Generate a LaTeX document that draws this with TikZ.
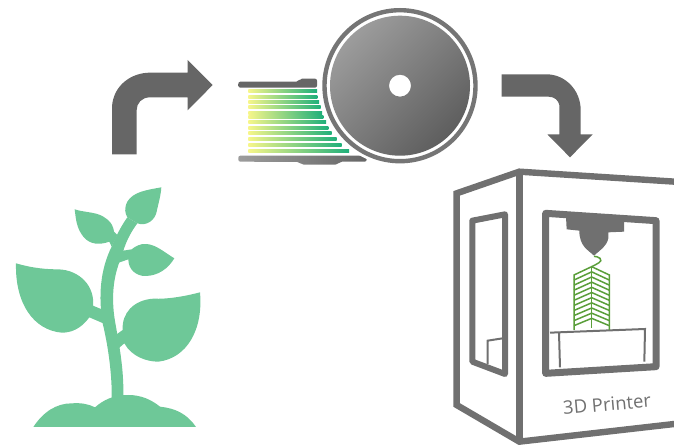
\documentclass[tikz,border=0pt]{standalone}
\usepackage{fontspec}
\setmainfont{Open Sans}
\definecolor{leaf}{HTML}{6EC898}
\definecolor{arrowgray}{HTML}{666666}
\definecolor{printgray}{HTML}{707070}
\definecolor{modelgreen}{HTML}{5A9E3A}
\definecolor{fila}{HTML}{1FAF7A}
\definecolor{filb}{HTML}{78DC6A}
\definecolor{filc}{HTML}{F6F68A}
\definecolor{disca}{HTML}{9C9C9C}
\definecolor{discb}{HTML}{5E5E5E}
\tikzset{
  zoomed/.style={x=0.33333pt,y=-0.33333pt},
  plant/.style={fill=leaf,draw=none},
  bigarrow/.style={fill=arrowgray,draw=none},
  frame/.style={draw=printgray,line width=6.4pt,line join=round,fill=none},
  thinframe/.style={draw=printgray,line width=2pt,line join=miter,fill=none},
  modelline/.style={draw=modelgreen,line width=1.5pt},
  strand/.style={draw=none,left color=filc,middle color=filb,right color=fila}
}
\begin{document}
\begin{tikzpicture}[x=1pt,y=-1pt]
\useasboundingbox (0,0) rectangle (674,446);
% plant
\begin{scope}[shift={(0,180)},zoomed]
\fill[plant] (335,660) .. controls (337,590) and (325,500) .. (308,430)
  .. controls (295,350) and (300,270) .. (335,200)
  .. controls (345,175) and (362,140) .. (382,112) -- (412,130)
  .. controls (390,160) and (375,190) .. (365,230)
  .. controls (338,290) and (332,360) .. (348,440)
  .. controls (360,510) and (372,570) .. (370,660) -- cycle;
\fill[plant] (48,250) .. controls (100,265) and (140,268) .. (175,268)
  .. controls (240,270) and (285,320) .. (279,377) -- (310,390) -- (310,430) -- (268,412)
  .. controls (240,450) and (210,458) .. (185,458)
  .. controls (100,450) and (45,370) .. (48,250) -- cycle;
\fill[plant] (600,337) .. controls (550,350) and (500,358) .. (460,356)
  .. controls (400,360) and (365,400) .. (368,450) -- (340,470) -- (350,510) -- (373,490)
  .. controls (395,530) and (440,545) .. (475,545)
  .. controls (560,535) and (610,450) .. (600,337) -- cycle;
\fill[plant] (523,235) .. controls (490,215) and (470,195) .. (440,192)
  .. controls (420,190) and (405,200) .. (395,208) -- (350,215) -- (345,252) -- (385,238)
  .. controls (385,270) and (410,288) .. (435,288)
  .. controls (475,288) and (505,265) .. (523,235) -- cycle;
\fill[plant] (484,22) .. controls (440,30) and (400,35) .. (382,65)
  .. controls (372,85) and (375,100) .. (382,112) -- (412,130)
  .. controls (440,140) and (465,120) .. (470,95)
  .. controls (475,70) and (482,50) .. (484,22) -- cycle;
\fill[plant] (224,88) .. controls (255,98) and (285,95) .. (310,110)
  .. controls (335,125) and (340,140) .. (342,155) -- (352,165) -- (335,200) -- (328,185)
  .. controls (300,195) and (270,195) .. (250,170)
  .. controls (230,145) and (228,120) .. (224,88) -- cycle;
\fill[plant] (100,741) .. controls (130,695) and (170,670) .. (215,670)
  .. controls (245,668) and (265,672) .. (285,682)
  .. controls (310,660) and (340,645) .. (385,645)
  .. controls (425,645) and (455,660) .. (480,680)
  .. controls (525,685) and (560,700) .. (588,741) -- cycle;
\end{scope}
% arrow 1
\begin{scope}[shift={(100,50)},zoomed]
\fill[bigarrow] (36,313) -- (36,170) .. controls (40,105) and (95,68) .. (150,68)
  -- (263,68) -- (263,30) -- (338,105) -- (263,181) -- (263,142) -- (150,142)
  .. controls (125,142) and (110,160) .. (110,180) -- (110,313) -- cycle;
\end{scope}
% arrow 2
\begin{scope}[shift={(490,60)},zoomed]
\fill[bigarrow] (35,43) -- (170,43) .. controls (225,43) and (272,90) .. (272,150)
  -- (272,223) -- (308,223) -- (240,292) -- (172,223) -- (208,223) -- (208,135)
  .. controls (205,122) and (195,110) .. (175,110) -- (35,110) -- cycle;
\end{scope}
% spool
\begin{scope}[shift={(220,0)},zoomed]
\shade[left color=arrowgray,right color=arrowgray,rounded corners=2pt]
  (55,263) -- (55,245) -- (235,245) -- (240,236) -- (291,236) -- (291,263) -- cycle;
\shade[left color=disca,right color=arrowgray,rounded corners=2pt]
  (55,467) -- (440,467) -- (440,485) -- (360,485) -- (352,494) -- (245,494) -- (238,486) -- (55,485) -- cycle;
\foreach \y/\e in {274/291,291/292,307/297,322/302,338/306,352/310,367/318,383/325,400/335,417/350,434/365,454/387}
  \shade[strand] (85,\y-4.5) rectangle (\e,\y+4.5);
\end{scope}
\fill[white] (400,85.7) circle (80.5);
\shade[top color=disca,bottom color=discb,shading angle=45,even odd rule] (400,85.7) circle (70) (400,85.7) circle (11);
\draw[arrowgray!90!white,line width=4.4pt] (400,85.7) circle (75.5);
% printer
\begin{scope}[shift={(440,160)},zoomed]
\draw[frame,line join=miter] (720,66) -- (238,35) -- (50,100) -- (50,735) -- (238,845) -- (720,790);
\draw[frame] (238,35) -- (238,845);
\draw[frame,line width=6pt] (97,182) -- (195,163) -- (195,642) -- (97,605) -- cycle;
\draw[frame,line width=7pt] (317,160) -- (648,182) -- (648,620) -- (317,640) -- cycle;
\draw[thinframe] (143,612) -- (143,542) -- (188,535);
\fill[printgray] (378,170) -- (552,180) -- (552,215) -- (505,217) -- (505,235)
  .. controls (500,260) and (480,270) .. (462,287)
  .. controls (445,270) and (418,260) .. (418,212) -- (380,208) -- cycle;
\draw[thinframe] (330,518) -- (615,507) -- (613,605);
\draw[thinframe] (357,518) -- (360,622);
\draw[modelline] (402,510) -- (402,345) -- (455,320) -- (508,345) -- (508,510);
\draw[modelline] (455,320) -- (455,505);
\foreach \i in {1,...,10}{
  \draw[modelline] (402,345+\i*15.2) -- (455,320+\i*15.5);
  \draw[modelline] (508,345+\i*15.2) -- (455,320+\i*15.5);
}
\draw[modelline] (455,320) .. controls (470,312) and (490,305) .. (480,295) .. controls (475,288) and (468,292) .. (462,289);
\node[rotate=5,text=printgray,font=\fontsize{18.5}{20}\selectfont,inner sep=0pt] (label) at (501,733) {3D Printer};
\end{scope}
\end{tikzpicture}
\end{document}
